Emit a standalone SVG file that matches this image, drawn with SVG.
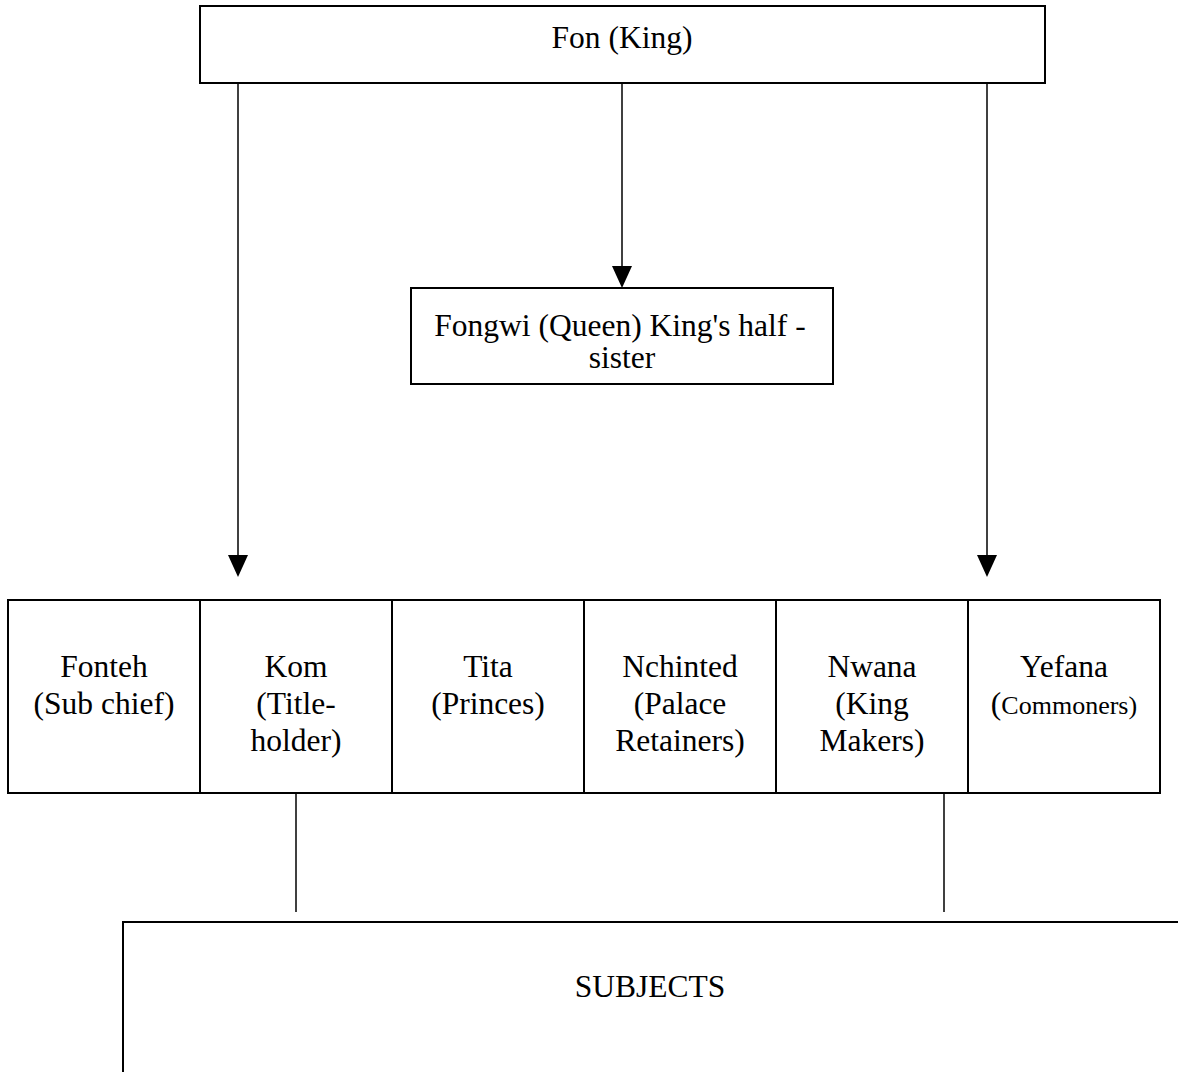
<svg xmlns="http://www.w3.org/2000/svg" width="1178" height="1072" viewBox="0 0 1178 1072">
<style>
.box{fill:#fff;stroke:#000;stroke-width:2}
.t{font-family:"Liberation Serif","Times New Roman",serif;font-size:31.5px;fill:#000;text-anchor:middle}
.ln{stroke:#000;stroke-width:1.5;fill:none}
.ah{fill:#000}
</style>
<rect width="1178" height="1072" fill="#fff"/>
<g id="fon">
<rect class="box" x="200" y="6" width="845" height="77"/>
<text class="t" x="622" y="48">Fon (King)</text>
</g>
<g id="fongwi">
<rect class="box" x="411" y="288" width="422" height="96"/>
<text class="t" x="620" y="336">Fongwi (Queen) King's half -</text>
<text class="t" x="622" y="368">sister</text>
</g>
<g id="fonteh">
<rect class="box" x="8" y="600" width="192" height="193"/>
<text class="t" x="104" y="677">Fonteh</text>
<text class="t" x="104" y="714">(Sub chief)</text>
</g>
<g id="kom">
<rect class="box" x="200" y="600" width="192" height="193"/>
<text class="t" x="296" y="677">Kom</text>
<text class="t" x="296" y="714">(Title-</text>
<text class="t" x="296" y="751">holder)</text>
</g>
<g id="tita">
<rect class="box" x="392" y="600" width="192" height="193"/>
<text class="t" x="488" y="677">Tita</text>
<text class="t" x="488" y="714">(Princes)</text>
</g>
<g id="nchinted">
<rect class="box" x="584" y="600" width="192" height="193"/>
<text class="t" x="680" y="677">Nchinted</text>
<text class="t" x="680" y="714">(Palace</text>
<text class="t" x="680" y="751">Retainers)</text>
</g>
<g id="nwana">
<rect class="box" x="776" y="600" width="192" height="193"/>
<text class="t" x="872" y="677">Nwana</text>
<text class="t" x="872" y="714">(King</text>
<text class="t" x="872" y="751">Makers)</text>
</g>
<g id="yefana">
<rect class="box" x="968" y="600" width="192" height="193"/>
<text class="t" x="1064" y="677">Yefana</text>
<text class="t" x="1064" y="714">(<tspan font-size="26">Commoners)</tspan></text>
</g>
<g id="subjects">
<rect class="box" x="123" y="922" width="1070" height="170"/>
<text class="t" x="650" y="997">SUBJECTS</text>
</g>
<g id="connectors">
<line class="ln" x1="238" y1="83" x2="238" y2="556"/>
<path class="ah" d="M228,555 L248,555 L238,577 Z"/>
<line class="ln" x1="622" y1="83" x2="622" y2="267"/>
<path class="ah" d="M612,266 L632,266 L622,288 Z"/>
<line class="ln" x1="987" y1="83" x2="987" y2="556"/>
<path class="ah" d="M977,555 L997,555 L987,577 Z"/>
<line class="ln" x1="296" y1="793" x2="296" y2="912"/>
<line class="ln" x1="944" y1="793" x2="944" y2="912"/>
</g>
</svg>
